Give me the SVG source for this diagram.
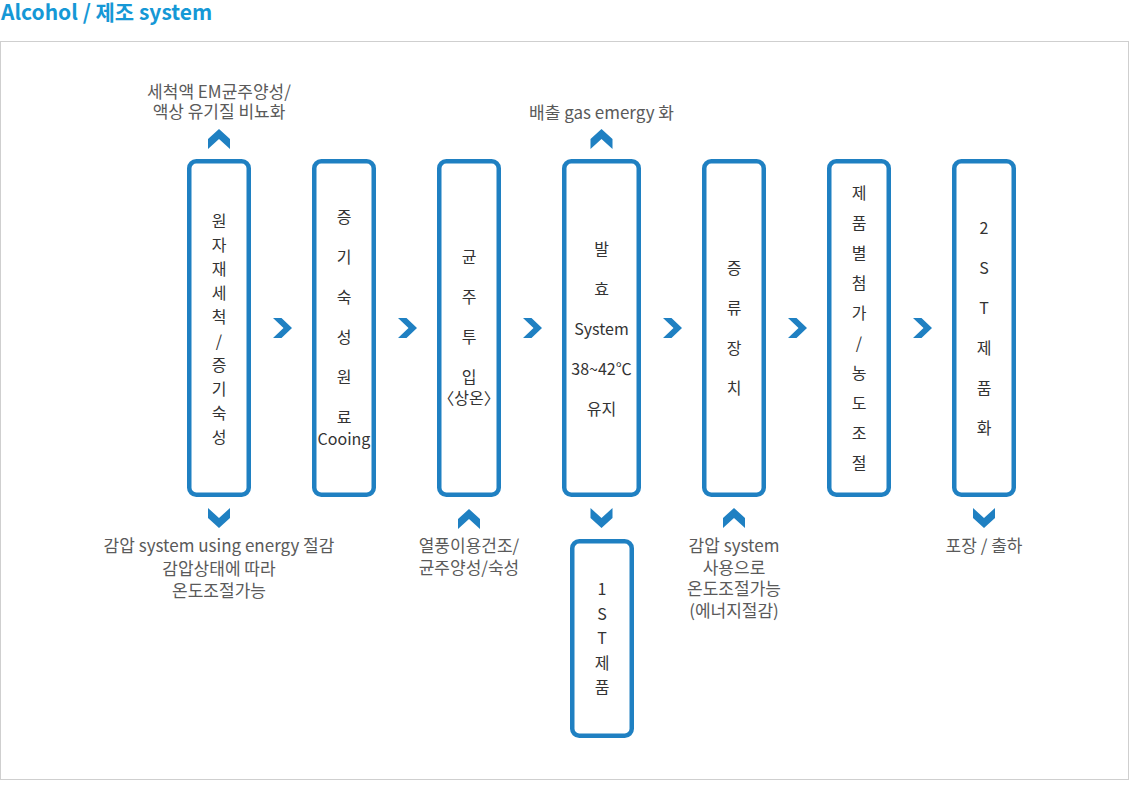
<svg xmlns="http://www.w3.org/2000/svg" xmlns:xlink="http://www.w3.org/1999/xlink" width="1130" height="800" viewBox="0 0 1130 800">
<style>
.box{fill:#fff;stroke:#1f80c2;stroke-width:4.5}
.chev{fill:#1f80c2}
.t{font-family:"Noto Sans CJK KR","Noto Sans",sans-serif;font-size:16px;fill:#333;text-anchor:middle}
.lbl{font-family:"Noto Sans CJK KR","Noto Sans",sans-serif;font-size:17px;fill:#5a5a5a;text-anchor:middle}
.title{font-family:"Noto Sans CJK KR","Noto Sans",sans-serif;font-size:21px;font-weight:bold;fill:#1598d6}
</style>
<defs>
<polygon id="cR" points="-9.5,-10 -1,-10 9.5,0 -1,10 -9.5,10 1,0"/>
<polygon id="cD" points="-11,-10 0,0 11,-10 11,0 0,10 -11,0"/>
<polygon id="cU" points="-11,10 0,0 11,10 11,0 0,-10 -11,0"/>
</defs>
<rect width="1130" height="800" fill="#fff"/>
<text class="title" x="1" y="20">Alcohol / 제조 system</text>
<rect x="0.5" y="41.5" width="1128" height="738" fill="none" stroke="#cfcfcf" stroke-width="1"/>

<g id="connectors" class="chev">
<use xlink:href="#cR" x="282.5" y="328"/>
<use xlink:href="#cR" x="407.5" y="328"/>
<use xlink:href="#cR" x="532.5" y="328"/>
<use xlink:href="#cR" x="672.5" y="328"/>
<use xlink:href="#cR" x="797.5" y="328"/>
<use xlink:href="#cR" x="922.5" y="328"/>
<use xlink:href="#cU" x="219" y="139"/>
<use xlink:href="#cU" x="601.5" y="139"/>
<use xlink:href="#cD" x="219" y="518"/>
<use xlink:href="#cD" x="601.5" y="518"/>
<use xlink:href="#cD" x="984" y="518"/>
<use xlink:href="#cU" x="469" y="519"/>
<use xlink:href="#cU" x="734" y="518"/>
</g>

<g id="n1">
<rect class="box" x="189.25" y="161.25" width="59.5" height="333.5" rx="7"/>
<text class="t" y="227"><tspan x="219">원</tspan><tspan x="219" dy="24">자</tspan><tspan x="219" dy="24">재</tspan><tspan x="219" dy="24">세</tspan><tspan x="219" dy="24">척</tspan><tspan x="219" dy="24">/</tspan><tspan x="219" dy="24">증</tspan><tspan x="219" dy="24">기</tspan><tspan x="219" dy="24">숙</tspan><tspan x="219" dy="24">성</tspan></text>
</g>
<g id="n2">
<rect class="box" x="314.25" y="161.25" width="59.5" height="333.5" rx="7"/>
<text class="t" y="223"><tspan x="344">증</tspan><tspan x="344" dy="40">기</tspan><tspan x="344" dy="40">숙</tspan><tspan x="344" dy="40">성</tspan><tspan x="344" dy="40">원</tspan><tspan x="344" dy="40">료</tspan><tspan x="344" dy="22">Cooing</tspan></text>
</g>
<g id="n3">
<rect class="box" x="439.25" y="161.25" width="59.5" height="333.5" rx="7"/>
<text class="t" y="263"><tspan x="469">균</tspan><tspan x="469" dy="40">주</tspan><tspan x="469" dy="40">투</tspan><tspan x="469" dy="40">입</tspan><tspan x="469" dy="21">〈상온〉</tspan></text>
</g>
<g id="n4">
<rect class="box" x="564.25" y="161.25" width="74.5" height="333.5" rx="7"/>
<text class="t" y="255"><tspan x="601.5">발</tspan><tspan x="601.5" dy="40">효</tspan><tspan x="601.5" dy="40">System</tspan><tspan x="601.5" dy="40">38~42℃</tspan><tspan x="601.5" dy="40">유지</tspan></text>
</g>
<g id="n5">
<rect class="box" x="704.25" y="161.25" width="59.5" height="333.5" rx="7"/>
<text class="t" y="274"><tspan x="734">증</tspan><tspan x="734" dy="40">류</tspan><tspan x="734" dy="40">장</tspan><tspan x="734" dy="40">치</tspan></text>
</g>
<g id="n6">
<rect class="box" x="829.25" y="161.25" width="59.5" height="333.5" rx="7"/>
<text class="t" y="199"><tspan x="859">제</tspan><tspan x="859" dy="30">품</tspan><tspan x="859" dy="30">별</tspan><tspan x="859" dy="30">첨</tspan><tspan x="859" dy="30">가</tspan><tspan x="859" dy="30">/</tspan><tspan x="859" dy="30">농</tspan><tspan x="859" dy="30">도</tspan><tspan x="859" dy="30">조</tspan><tspan x="859" dy="30">절</tspan></text>
</g>
<g id="n7">
<rect class="box" x="954.25" y="161.25" width="59.5" height="333.5" rx="7"/>
<text class="t" y="234"><tspan x="984">2</tspan><tspan x="984" dy="40">S</tspan><tspan x="984" dy="40">T</tspan><tspan x="984" dy="40">제</tspan><tspan x="984" dy="40">품</tspan><tspan x="984" dy="40">화</tspan></text>
</g>
<g id="n1st">
<rect class="box" x="572.25" y="541.25" width="59.5" height="194.5" rx="7"/>
<text class="t" y="595"><tspan x="602">1</tspan><tspan x="602" dy="24.5">S</tspan><tspan x="602" dy="24.5">T</tspan><tspan x="602" dy="24.5">제</tspan><tspan x="602" dy="24.5">품</tspan></text>
</g>

<g id="labels">
<text class="lbl" y="98"><tspan x="219">세척액 EM균주양성/</tspan><tspan x="219" dy="20">액상 유기질 비뇨화</tspan></text>
<text class="lbl" x="601.5" y="119">배출 gas emergy 화</text>
<text class="lbl" y="552"><tspan x="219">감압 system using energy 절감</tspan><tspan x="219" dy="22.5">감압상태에 따라</tspan><tspan x="219" dy="22.5">온도조절가능</tspan></text>
<text class="lbl" y="552"><tspan x="469">열풍이용건조/</tspan><tspan x="469" dy="22">균주양성/숙성</tspan></text>
<text class="lbl" y="552"><tspan x="734">감압 system</tspan><tspan x="734" dy="21.5">사용으로</tspan><tspan x="734" dy="21.5">온도조절가능</tspan><tspan x="734" dy="21.5">(에너지절감)</tspan></text>
<text class="lbl" x="984" y="552">포장 / 출하</text>
</g>
</svg>
